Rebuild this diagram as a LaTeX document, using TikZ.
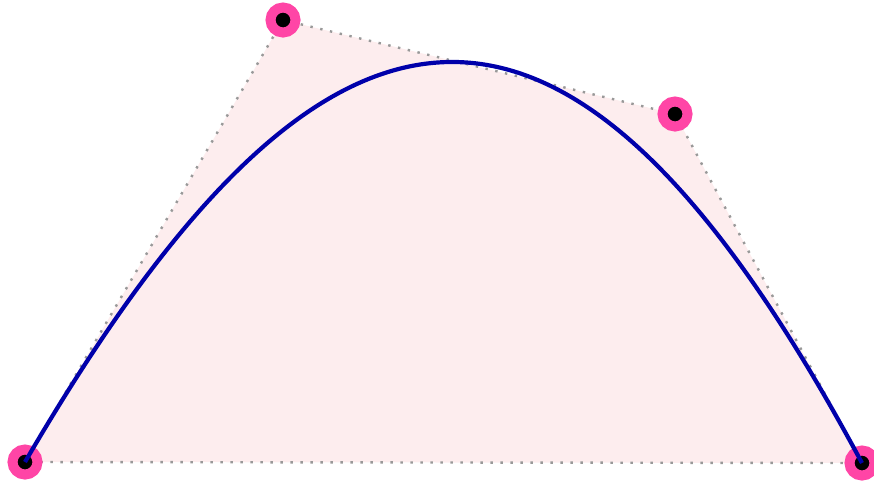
\documentclass[tikz,border=0pt]{standalone}
\usepackage{tikz}
\usetikzlibrary{positioning, calc}
\definecolor{hullpink}{HTML}{FDEDEE}
\definecolor{ptpink}{HTML}{FF45A6}
\definecolor{curveblue}{HTML}{0000AA}

\begin{document}
\begin{tikzpicture}[
    x=1pt, y=-1pt,
    hull/.style={draw=gray!80, line width=2.4pt, dash pattern=on 2.4pt off 7.6pt, fill=hullpink},
    bezier/.style={draw=curveblue, line width=4.2pt},
    ctrlpt/.style={draw=ptpink, line width=10pt, circle, fill=black, minimum size=25pt, inner sep=0pt}
]
\useasboundingbox (0,0) rectangle (874,482);

% Punkte
\coordinate (p0) at (25,462);
\coordinate (p1) at (283,20);
\coordinate (p2) at (675,114);
\coordinate (p3) at (862,463);
\coordinate (c1) at (332,-65);
\coordinate (c2) at (572,-78);

% Kontrollpolygon
\draw[hull] (p0) -- (p1) -- (p2) -- (p3) -- cycle;

% Knoten
\node[ctrlpt] (m0) at (p0) {};
\node[ctrlpt] (m1) at (p1) {};
\node[ctrlpt] (m2) at (p2) {};
\node[ctrlpt] (m3) at (p3) {};

% Kurve
\draw[bezier] (m0.center) .. controls (c1) and (c2) .. (m3.center);

\end{tikzpicture}
\end{document}
